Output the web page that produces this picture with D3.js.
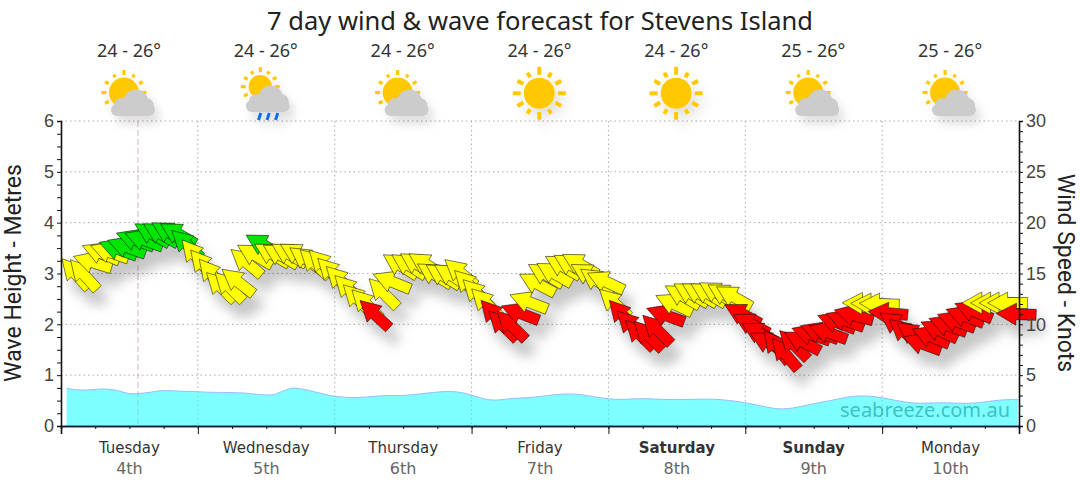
<!DOCTYPE html>
<html>
<head>
<meta charset="utf-8">
<script src="https://cdnjs.cloudflare.com/ajax/libs/d3/7.8.5/d3.min.js"></script>
<style>
  html, body { margin: 0; padding: 0; background: #fff; }
  svg { display: block; }
  text { font-family: "Liberation Sans", Arial, sans-serif; }
  .tahoma { font-family: "Noto Sans", sans-serif; }
  .grid line { stroke: #aaa; stroke-dasharray: 1.5,3; }
</style>
</head>
<body>
<div id="chart"></div>
<script>
const dayNames = ["Tuesday", "Wednesday", "Thursday", "Friday", "Saturday", "Sunday", "Monday"];
const dayDates = ["4th", "5th", "6th", "7th", "8th", "9th", "10th"];
const boldDays = ["Saturday", "Sunday"];
const tempRanges = ["24 - 26°", "24 - 26°", "24 - 26°", "24 - 26°", "24 - 26°", "25 - 26°", "25 - 26°"];
const dayIcons = ["partly", "rain", "partly", "sun", "sun", "partly", "partly"];

// wind, one reading every 1.5 hours starting at hour 2.5
const windKnots = [
  15.0, 14.9, 16.1, 17.0, 17.1, 17.4, 17.6, 18.3, 18.3, 18.9, 18.9, 19.0, 18.9, 17.9, 16.8, 15.8,
  14.9, 13.7, 13.7, 14.2, 16.1, 16.8, 17.8, 16.9, 16.8, 16.9, 16.9, 16.4, 16.0, 15.9, 15.1, 14.3,
  13.4, 12.5, 12.0, 11.0, 13.1, 14.2, 15.8, 15.8, 15.9, 15.9, 14.9, 14.8, 14.8, 15.1, 13.9, 13.0,
  12.1, 10.9, 9.9, 9.9, 11.1, 12.2, 14.0, 14.9, 15.0, 15.7, 15.8, 15.9, 14.9, 14.3, 14.2, 12.1,
  10.9, 9.9, 9.0, 8.9, 9.5, 10.9, 12.0, 12.8, 13.0, 13.0, 13.0, 13.1, 12.9, 12.7, 11.0, 10.05,
  9.15, 8.2, 7.8, 7.1, 8.0, 8.3, 9.0, 9.2, 9.2, 10.2, 10.4, 10.9, 12.05, 12.0, 12.0, 11.1,
  10.0, 9.2, 9.0, 8.1, 8.8, 9.4, 9.9, 10.3, 10.8, 11.3, 12.1, 12.1, 12.1, 12.1, 11.0
];
// compass bearing the wind blows from
const windDir = [
  138, 138, 107, 112, 109, 110, 110, 110, 110, 120, 120, 120, 120, 133, 140, 140,
  140, 135, 135, 128, 130, 120, 120, 120, 120, 120, 120, 125, 133, 135, 135, 135,
  135, 135, 135, 133, 135, 112, 122, 122, 122, 122, 122, 122, 122, 130, 135, 135,
  135, 138, 135, 135, 111, 111, 118, 120, 120, 120, 120, 120, 120, 125, 115, 133,
  138, 135, 135, 135, 135, 110, 115, 120, 120, 120, 120, 120, 120, 120, 118, 118,
  118, 118, 142, 140, 135, 118, 108, 110, 110, 110, 110, 105, 92, 92, 92, 95,
  125, 130, 125, 110, 112, 115, 110, 110, 110, 112, 90, 90, 90, 90, 92
];

const waveHours = [1, 3.9, 7.1, 9.8, 11.7, 13.5, 15.6, 17.9, 20.9, 23.8, 25.5, 31.4, 33.7, 36.6, 37.9, 40.2, 41.9, 45.4, 48, 52.4, 56.8, 59.4, 63, 67.3, 70.8, 75.2, 78.7, 82.2, 85.8, 90.1, 94.5, 98, 101.5, 106.8, 112, 115.6, 120.8, 125.2, 127.8, 133.1, 135.2, 138.7, 142.7, 145.9, 150.1, 153.8, 159.4, 162.9, 165.5, 167.8];
const waveMetres = [0.74, 0.69, 0.74, 0.71, 0.63, 0.635, 0.66, 0.71, 0.68, 0.68, 0.66, 0.66, 0.63, 0.6, 0.63, 0.76, 0.74, 0.65, 0.57, 0.55, 0.61, 0.59, 0.63, 0.69, 0.67, 0.47, 0.55, 0.55, 0.61, 0.65, 0.55, 0.51, 0.55, 0.51, 0.53, 0.53, 0.45, 0.33, 0.33, 0.47, 0.5, 0.6, 0.59, 0.51, 0.43, 0.47, 0.43, 0.49, 0.52, 0.52];

const nowHour = 13.5;

const width = 1080, height = 490;
const left = 61, right = 1019, top_ = 121, bottom = 426;

const svg = d3.select("#chart").append("svg").attr("width", width).attr("height", height);

const defs = svg.append("defs");
const shadow = defs.append("filter").attr("id", "shadow")
  .attr("x", "-20%").attr("y", "-20%").attr("width", "150%").attr("height", "160%");
shadow.append("feDropShadow").attr("dx", 8).attr("dy", 14).attr("stdDeviation", 6)
  .attr("flood-color", "#000").attr("flood-opacity", 0.22);
const iconShadow = defs.append("filter").attr("id", "iconShadow")
  .attr("x", "-30%").attr("y", "-30%").attr("width", "170%").attr("height", "180%");
iconShadow.append("feDropShadow").attr("dx", 5).attr("dy", 8).attr("stdDeviation", 5)
  .attr("flood-color", "#000").attr("flood-opacity", 0.12);

const x = d3.scaleLinear().domain([0, 168]).range([left, right]);
const yWave = d3.scaleLinear().domain([0, 6]).range([bottom, top_]);
const yWind = d3.scaleLinear().domain([0, 30]).range([bottom, top_]);
const windColor = d3.scaleThreshold().domain([11.6, 17.25]).range(["#ff0000", "#ffff00", "#00e600"]);

// grid
const dayTicks = d3.range(0, 169, 24);
svg.append("g").attr("class", "grid").selectAll("line").data(d3.range(1, 7)).enter().append("line")
  .attr("x1", left).attr("x2", right).attr("y1", d => yWave(d)).attr("y2", d => yWave(d));
svg.append("g").attr("class", "grid").selectAll("line").data(dayTicks.slice(1, 7)).enter().append("line")
  .attr("x1", d => x(d)).attr("x2", d => x(d)).attr("y1", top_).attr("y2", bottom);

// now marker
svg.append("line").attr("x1", x(nowHour)).attr("x2", x(nowHour)).attr("y1", top_).attr("y2", bottom)
  .attr("stroke", "#d8b4b4").attr("stroke-dasharray", "6,3");

// waves
const area = d3.area().x((d, i) => x(waveHours[i])).y0(bottom).y1(d => yWave(d)).curve(d3.curveBasis);
const waveLine = d3.line().x((d, i) => x(waveHours[i])).y(d => yWave(d)).curve(d3.curveBasis);
svg.append("path").attr("d", area(waveMetres)).attr("fill", "#00ffff").attr("fill-opacity", 0.5);
svg.append("path").attr("d", waveLine(waveMetres)).attr("fill", "none").attr("stroke", "#99bbff").attr("stroke-width", 1);

svg.append("text").attr("x", 1010).attr("y", 417).attr("text-anchor", "end").attr("class", "tahoma")
  .attr("font-size", 20).attr("fill", "#008c8c").attr("fill-opacity", 0.55)
  .text("seabreeze.com.au");

// wind arrows, later readings sit on top of earlier ones
const arrowPath = "M0,-20L11,0L5.5,0L5.5,20L-5.5,20L-5.5,0L-11,0Z";
svg.append("g").attr("filter", "url(#shadow)")
  .selectAll("path").data(windKnots).enter().append("path")
  .attr("d", arrowPath)
  .attr("transform", (d, i) => `translate(${x(2.5 + 1.5 * i)},${yWind(d)}) rotate(${windDir[i] + 180})`)
  .attr("fill", d => windColor(d))
  .attr("stroke", "#000").attr("stroke-opacity", 0.6).attr("stroke-width", 0.8);

// axes
const axisLeftMinor = d3.axisLeft(yWave).tickValues(d3.range(0, 6.01, 0.25)).tickSize(4).tickFormat(d => Number.isInteger(d) ? d : "");
const gl = svg.append("g").attr("transform", `translate(${left},0)`).call(axisLeftMinor);
const axisRightMinor = d3.axisRight(yWind).tickValues(d3.range(0, 31, 1)).tickSize(4).tickFormat(d => d % 5 === 0 ? d : "");
const gr = svg.append("g").attr("transform", `translate(${right},0)`).call(axisRightMinor);
const axisBottomMinor = d3.axisBottom(x).tickValues(d3.range(0, 169, 6)).tickSize(3).tickFormat("");
const gb = svg.append("g").attr("transform", `translate(0,${bottom})`).call(axisBottomMinor);
const axisBottomDays = d3.axisBottom(x).tickValues(dayTicks).tickSize(8).tickFormat("");
const gd = svg.append("g").attr("transform", `translate(0,${bottom})`).call(axisBottomDays);
[gl, gr, gb, gd].forEach(g => {
  g.select(".domain").attr("stroke", "#111").attr("stroke-width", 1.6);
  g.selectAll(".tick line").attr("stroke", "#111");
  g.selectAll("text").attr("font-size", 18).attr("fill", "#444").style("font-family", '"Liberation Sans", Arial, sans-serif');
});
gb.select(".domain").attr("stroke", "#001a40");
gd.select(".domain").attr("stroke", "#001a40");

// titles
svg.append("text").attr("x", 540).attr("y", 30).attr("text-anchor", "middle").attr("class", "tahoma")
  .attr("font-size", 25.5).attr("fill", "#222").text("7 day wind & wave forecast for Stevens Island");
svg.append("text").attr("transform", "translate(21,273) rotate(-90)").attr("text-anchor", "middle")
  .style("font-family", "Roboto, sans-serif")
  .attr("font-size", 23).attr("fill", "#222").text("Wave Height - Metres");
svg.append("text").attr("transform", "translate(1058,273) rotate(90)").attr("text-anchor", "middle")
  .style("font-family", "Roboto, sans-serif")
  .attr("font-size", 23).attr("fill", "#222").text("Wind Speed - Knots");

// day labels
const dayCentre = i => x(24 * i + 12);
const days = svg.append("g").style("font-family", '"DejaVu Sans", sans-serif').selectAll("g").data(dayNames).enter().append("g");
days.append("text").attr("x", (d, i) => dayCentre(i)).attr("y", 453).attr("text-anchor", "middle")
  .style("font-family", '"DejaVu Sans", sans-serif')
  .attr("font-size", 15).attr("fill", "#333").attr("font-weight", d => boldDays.includes(d) ? "bold" : "normal").text(d => d);
days.append("text").attr("x", (d, i) => dayCentre(i)).attr("y", 474).attr("text-anchor", "middle")
  .style("font-family", '"DejaVu Sans", sans-serif')
  .attr("font-size", 16).attr("fill", "#666").text((d, i) => dayDates[i]);
days.append("text").attr("x", (d, i) => dayCentre(i) - 0.5).attr("y", 57).attr("text-anchor", "middle").attr("class", "tahoma")
  .attr("font-size", 18).attr("fill", "#333").text((d, i) => tempRanges[i]);

// weather icons
function drawSun(g, cx, cy, r, rayStart, rayLen) {
  g.append("circle").attr("cx", cx).attr("cy", cy).attr("r", r).attr("fill", "#ffc800");
  d3.range(12).forEach(i => {
    const a = i * Math.PI / 6;
    const short = i === 1 || i === 5 || i === 7 || i === 11;
    const len = i % 3 === 0 ? rayLen : short ? rayLen * 0.65 : rayLen * 0.85;
    g.append("line")
      .attr("x1", cx + Math.sin(a) * rayStart).attr("y1", cy - Math.cos(a) * rayStart)
      .attr("x2", cx + Math.sin(a) * (rayStart + len)).attr("y2", cy - Math.cos(a) * (rayStart + len))
      .attr("stroke", "#ffc800").attr("stroke-width", rayLen > 6 ? 4 : 3.2);
  });
}
function drawCloud(g, cx, cy) {
  const c = g.append("g").attr("fill", "#cccccc");
  c.append("circle").attr("cx", cx + 3).attr("cy", cy - 1).attr("r", 12.5);
  c.append("circle").attr("cx", cx - 11).attr("cy", cy + 3).attr("r", 8);
  c.append("circle").attr("cx", cx + 13).attr("cy", cy + 3).attr("r", 8);
  c.append("rect").attr("x", cx - 22).attr("y", cy + 1).attr("width", 44).attr("height", 12).attr("rx", 6);
}
const icons = svg.append("g").selectAll("g").data(dayIcons).enter().append("g").attr("filter", "url(#iconShadow)");
icons.each(function (type, i) {
  const g = d3.select(this), cx = dayCentre(i);
  if (type === "sun") {
    drawSun(g, cx - 0.7, 93.3, 15.5, 18.5, 8);
  } else if (type === "partly") {
    drawSun(g, cx - 5.5, 92.5, 15, 17.5, 5);
    drawCloud(g, cx + 3.5, 103);
  } else {
    drawSun(g, cx - 6, 86.7, 11.7, 14.5, 5);
    drawCloud(g, cx + 1.5, 99);
    [-7, 1.5, 10].forEach(dx => {
      g.append("line").attr("x1", cx + dx + 1.5).attr("y1", 113).attr("x2", cx + dx - 0.8).attr("y2", 120)
        .attr("stroke", "#0a6ef0").attr("stroke-width", 3);
    });
  }
});
</script>
</body>
</html>
